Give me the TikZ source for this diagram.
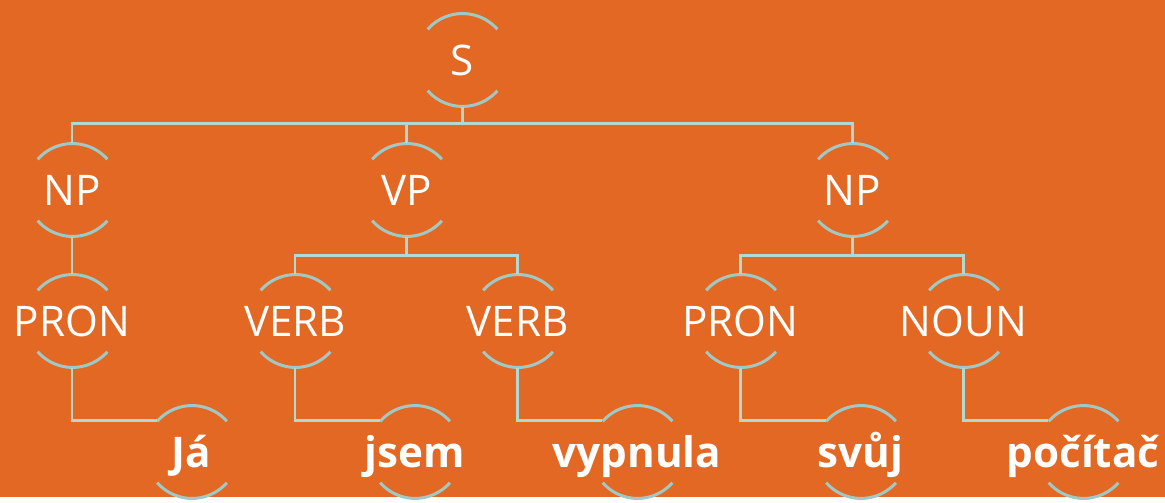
\documentclass[tikz,border=0pt]{standalone}
\usepackage{fontspec}
\setmainfont{Open Sans}
\definecolor{bgorange}{RGB}{227,104,36}
\definecolor{linkgrey}{RGB}{178,216,210}
\definecolor{bracegrey}{RGB}{160,201,197}
\begin{document}
\begin{tikzpicture}[
  ring/.style={circle,draw=none,minimum size=1.86cm,inner sep=0pt,
    label={[tag]center:#1}},
  tag/.style={text=white,font=\fontsize{24}{28}\selectfont,
    text height=22pt,text depth=4pt,inner sep=0pt},
  leaf/.style={ring={\textbf{#1}}},
  link/.style={draw=linkgrey,line width=1.7pt},
  brace/.style={draw=bracegrey,line width=1.7pt}]
\fill[bgorange] (0,0) rectangle (23.30,9.94);
% tree
\node[ring=S] (s) at (9.24,8.74) {};
\node[ring=NP] (np1) at (1.44,6.14) {};
\node[ring=VP] (vp) at (8.13,6.14) {};
\node[ring=NP] (np2) at (17.05,6.14) {};
\node[ring=PRON] (pron1) at (1.44,3.52) {};
\node[ring=VERB] (verb1) at (5.90,3.52) {};
\node[ring=VERB] (verb2) at (10.35,3.52) {};
\node[ring=PRON] (pron2) at (14.81,3.52) {};
\node[ring=NOUN] (noun) at (19.27,3.52) {};
\node[leaf=Já] (ja) at (3.83,0.90) {};
\node[leaf=jsem] (jsem) at (8.29,0.90) {};
\node[leaf=vypnula] (vypnula) at (12.74,0.90) {};
\node[leaf=svůj] (svuj) at (17.21,0.90) {};
\node[leaf=počítač] (pocitac) at (21.66,0.90) {};
% arcs above and below every label
\foreach \n in {s,np1,vp,np2,pron1,verb1,verb2,pron2,noun,ja,jsem,vypnula,svuj,pocitac}
  \draw[brace] (\n.41.5) arc[start angle=41.5,end angle=138.5,radius=0.93cm]
               (\n.-41.5) arc[start angle=-41.5,end angle=-138.5,radius=0.93cm];
% connectors
\foreach \c in {np1,vp,np2}
  \draw[link] (s.south) -- ++(0,-0.33) -| (\c.north);
\foreach \c in {verb1,verb2}
  \draw[link] (vp.south) -- ++(0,-0.38) -| (\c.north);
\foreach \c in {pron2,noun}
  \draw[link] (np2.south) -- ++(0,-0.38) -| (\c.north);
\draw[link] (np1.south) -- (pron1.north);
\draw[link] (pron1.south) |- (ja.138.5);
\draw[link] (verb1.south) |- (jsem.138.5);
\draw[link] (verb2.south) |- (vypnula.138.5);
\draw[link] (pron2.south) |- (svuj.138.5);
\draw[link] (noun.south) |- (pocitac.138.5);
\end{tikzpicture}
\end{document}
